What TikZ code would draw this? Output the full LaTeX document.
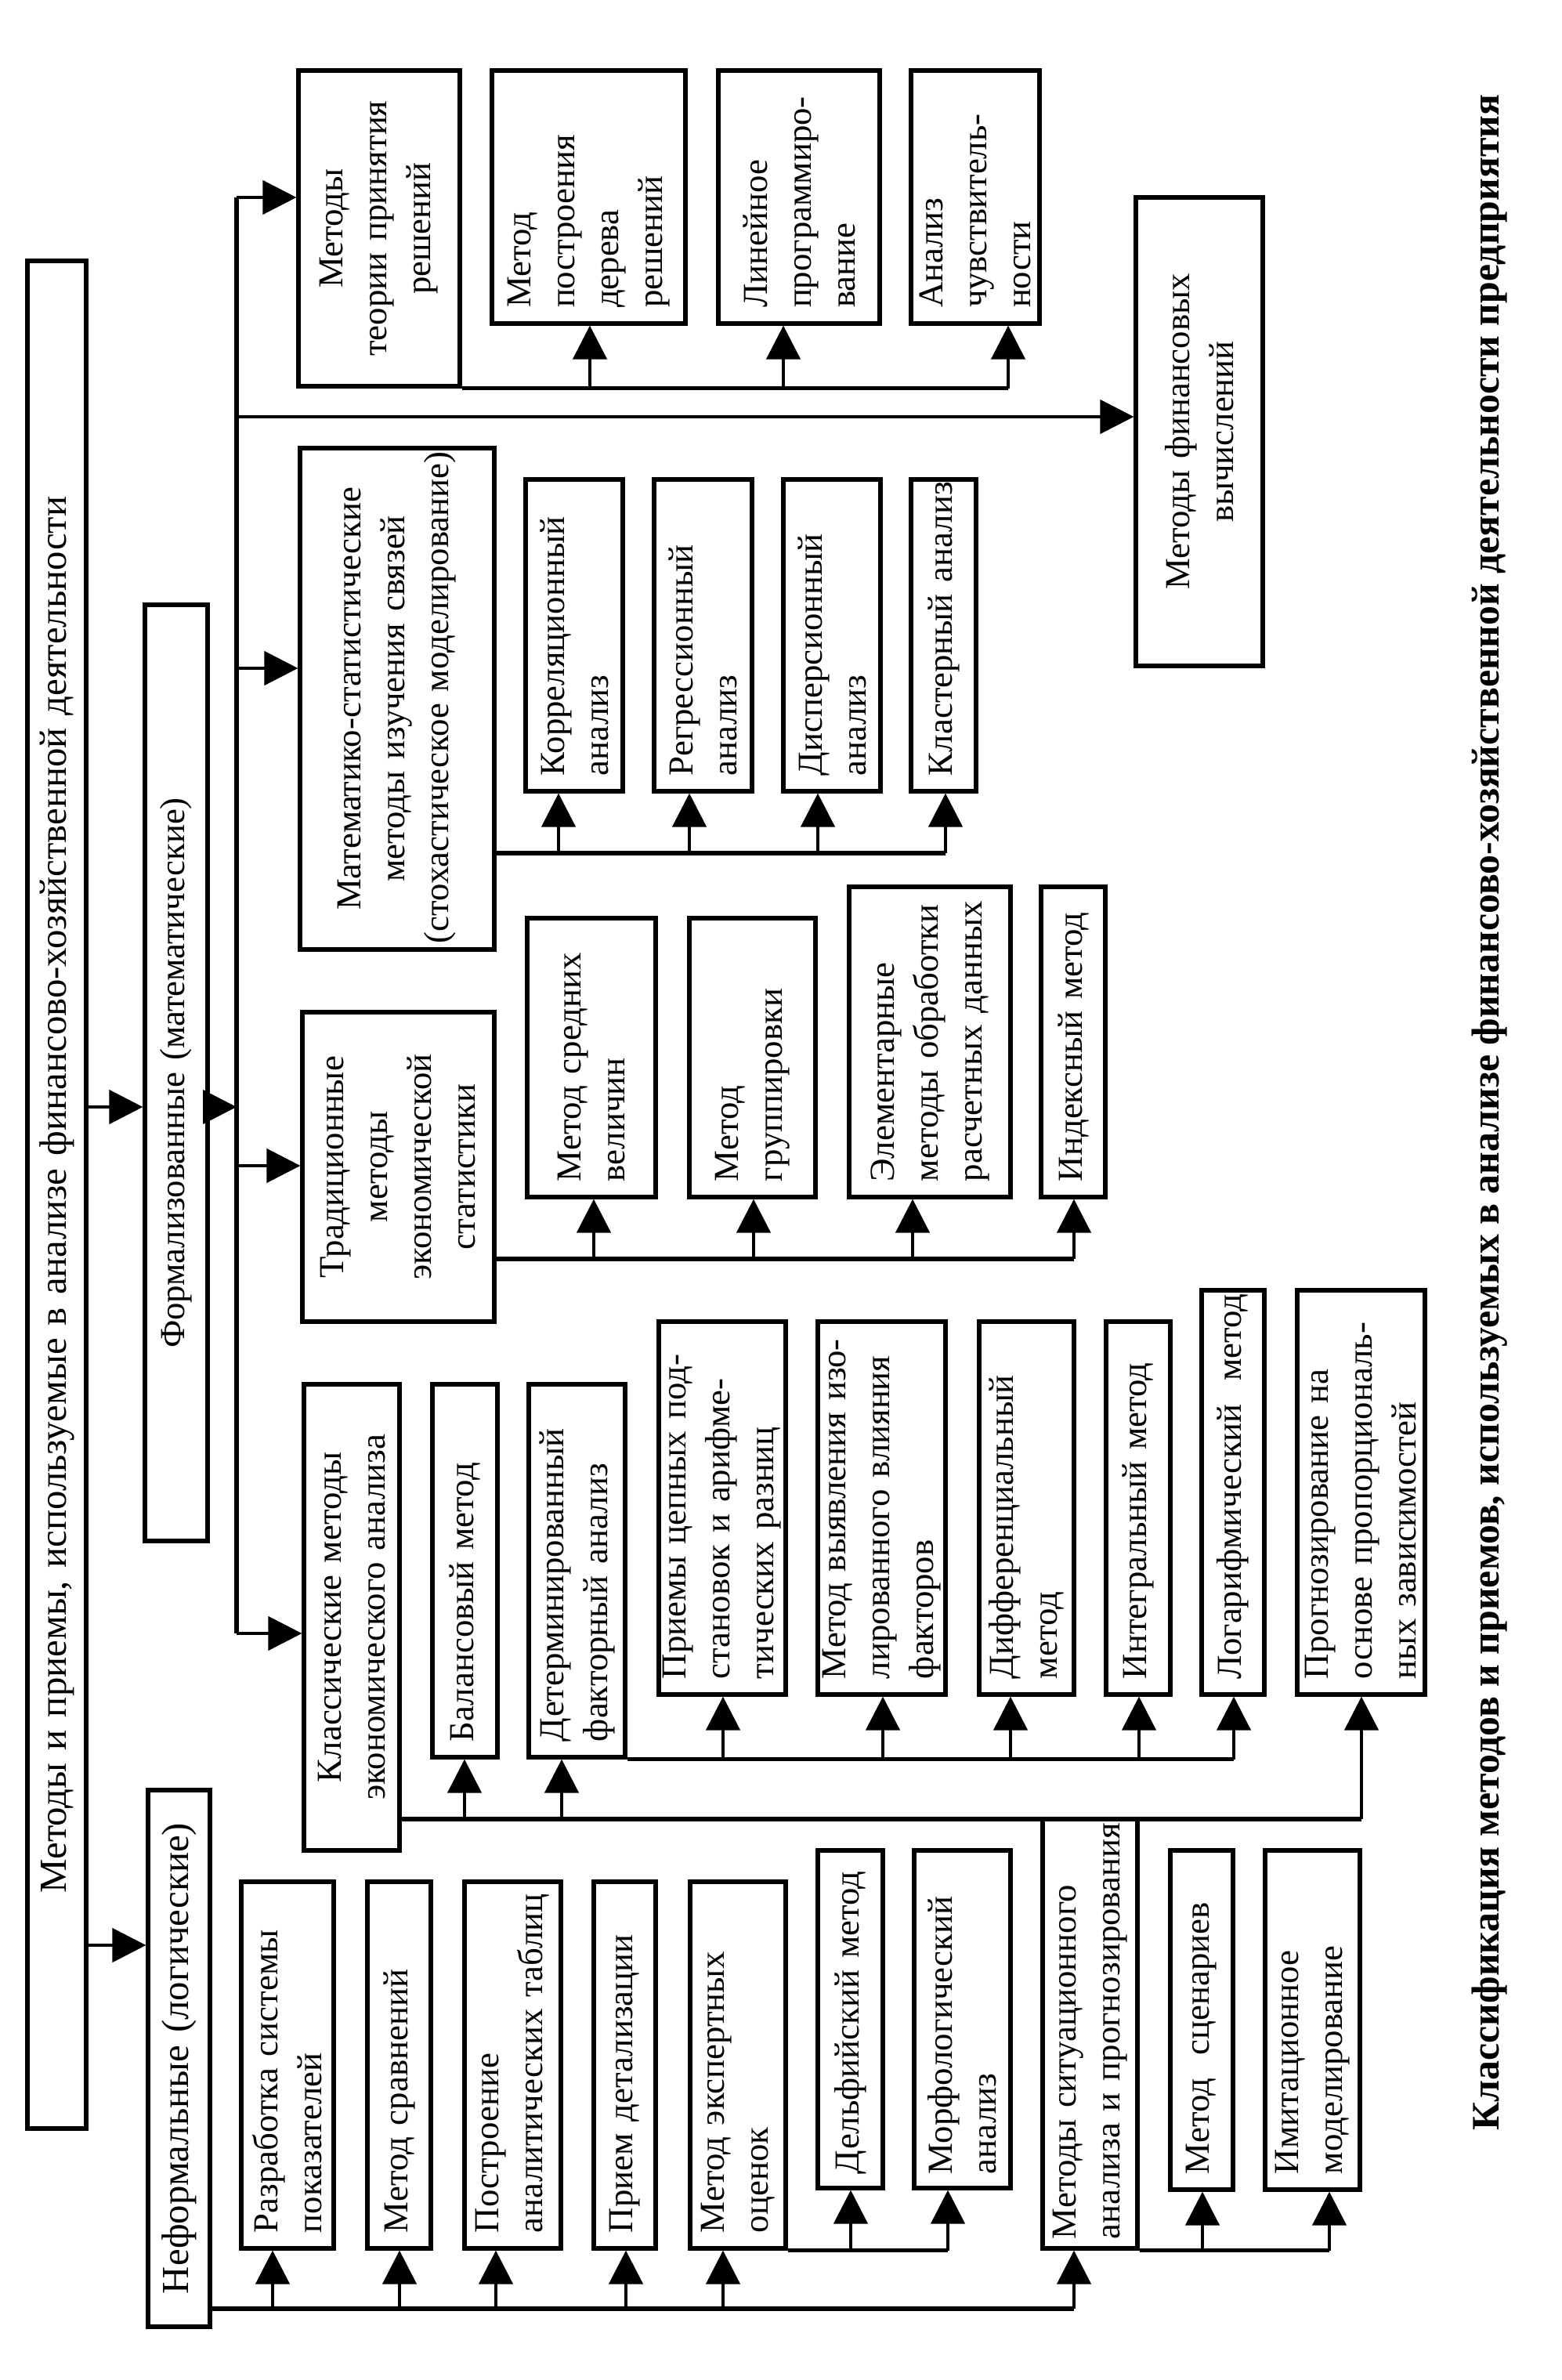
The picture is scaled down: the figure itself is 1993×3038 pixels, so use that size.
\documentclass[tikz,border=0pt]{standalone}
\usepackage{fontspec}
\setmainfont{Liberation Serif}
\usetikzlibrary{arrows.meta}
\hyphenpenalty=10000
\exhyphenpenalty=10000
\tikzset{
  box/.style={draw, line width=1.3pt, rotate=90, inner sep=0pt, font=\fontsize{11.2}{14}\selectfont},
  boxL/.style={box, align=left},
  boxC/.style={box, align=center},
  boxT/.style={box, align=center, font=\fontsize{12.2}{14}\selectfont},
  bus/.style={line width=1.3pt},
  arr/.style={line width=1.15pt, -{Triangle[length=10.75pt,width=10.75pt]}},
  capt/.style={rotate=90, inner sep=0pt, font=\fontsize{12.45}{15}\selectfont\bfseries}
}
% style, name, x1, y1, x2, y2, pad, text
\newcommand\bx[8]{%
  \pgfmathsetlengthmacro\bxw{(#6-#4)*0.25pt}%
  \pgfmathsetlengthmacro\bxh{(#5-#3)*0.25pt}%
  \pgfmathsetlengthmacro\bxt{(#6-#4-2*#7)*0.25pt}%
  \node[#1, minimum width=\bxw, minimum height=\bxh, text width=\bxt] (#2) at ({(#3+#5)/2},{(#4+#6)/2}) {#8};}
\begin{document}
\begin{tikzpicture}[x=0.25pt,y=-0.25pt]
\useasboundingbox (0,0) rectangle (1993,3038);
% top level
\bx{boxT}{title}{35}{333}{110}{2717}{10}{Методы и приемы, используемые в анализе финансово-хозяйственной деятельности}
\bx{boxC}{form}{185}{772}{265}{1967}{10}{Формализованные (математические)}
\bx{boxT}{nef}{189}{2285}{268}{2970}{5}{Неформальные (логические)}
% decision theory
\bx{boxC}{mtpr}{381}{90}{587}{493}{10}{Методы\\теории~принятия\\решений}
\bx{boxL}{mpdr}{628}{90}{875}{413}{20}{Метод\\построения\\дерева\\решений}
\bx{boxL}{lp}{917}{90}{1123}{413}{20}{Линейное\\программиро-\\вание}
\bx{boxL}{ach}{1163}{90}{1327}{413}{20}{Анализ\\чувствитель-\\ности}
\bx{boxC}{fin}{1450}{252}{1612}{850}{10}{Методы~финансовых\\вычислений}
% math-stat
\bx{boxC}{ms}{383}{572}{631}{1212}{8}{Математико-статистические\\методы~изучения~связей\\(стохастическое~моделирование)}
\bx{boxL}{kor}{671}{612}{795}{1010}{20}{Корреляционный\\анализ}
\bx{boxL}{reg}{835}{612}{960}{1010}{20}{Регрессионный\\анализ}
\bx{boxL}{dis}{1000}{612}{1124}{1010}{20}{Дисперсионный\\анализ}
\bx{boxL}{kla}{1163}{612}{1246}{1010}{20}{Кластерный~анализ}
% traditional
\bx{boxC}{trad}{386}{1292}{631}{1687}{10}{Традиционные\\методы\\экономической\\статистики}
\bx{boxL}{msv}{673}{1172}{837}{1528}{20}{Метод~средних\\величин}
\bx{boxL}{mgr}{880}{1172}{1041}{1528}{20}{Метод\\группировки}
\bx{boxL}{elem}{1084}{1132}{1290}{1528}{20}{Элементарные\\методы~обработки\\расчетных~данных}
\bx{boxL}{ind}{1329}{1132}{1411}{1528}{20}{Индексный~метод}
% classical
\bx{boxC}{kl}{388}{1767}{510}{2362}{10}{Классические~методы\\экономического~анализа}
\bx{boxL}{bal}{552}{1767}{635}{2243}{20}{Балансовый~метод}
\bx{boxL}{det}{675}{1767}{798}{2243}{20}{Детерминированный\\факторный~анализ}
\bx{boxL}{cep}{841}{1687}{1003}{2163}{20}{Приемы~цепных~под-\\становок~и~арифме-\\тических~разниц}
\bx{boxL}{izo}{1044}{1687}{1207}{2163}{20}{Метод~выявления~изо-\\лированного~влияния\\факторов}
\bx{boxL}{dif}{1250}{1687}{1371}{2163}{20}{Дифференциальный\\метод}
\bx{boxL}{int}{1412}{1687}{1494}{2163}{20}{Интегральный~метод}
\bx{boxL}{log}{1534}{1647}{1614}{2163}{20}{Логарифмический~~метод}
\bx{boxL}{prog}{1656}{1647}{1819}{2163}{20}{Прогнозирование~на\\основе~пропорциональ-\\ных~зависимостей}
% informal
\bx{boxL}{raz}{308}{2402}{426}{2870}{20}{Разработка~системы\\показателей}
\bx{boxL}{srav}{469}{2402}{550}{2870}{20}{Метод~сравнений}
\bx{boxL}{tab}{593}{2402}{716}{2870}{20}{Построение\\аналитических~таблиц}
\bx{boxL}{detal}{758}{2402}{837}{2870}{20}{Прием~детализации}
\bx{boxL}{eks}{881}{2402}{1003}{2870}{20}{Метод~экспертных\\оценок}
\bx{boxL}{del}{1044}{2362}{1127}{2793}{18}{Дельфийский~метод}
\bx{boxL}{mor}{1167}{2362}{1290}{2793}{18}{Морфологический\\анализ}
\bx{boxL}{sit}{1331}{2322}{1452}{2870}{12}{Методы~ситуационного\\анализа~и~прогнозирования}
\bx{boxL}{scen}{1494}{2362}{1574}{2795}{20}{Метод~~сценариев}
\bx{boxL}{imit}{1615}{2362}{1736}{2795}{20}{Имитационное\\моделирование}
% caption
\node[capt] (cap) at (1902,1420) {Классификация методов и приемов, используемых в анализе финансово-хозяйственной деятельности предприятия};
% ---- connectors ----
\coordinate (tTop) at (302,252);
\coordinate (tFin) at (302,532);
\coordinate (tMs) at (302,853);
\coordinate (tForm) at (302,1413);
\coordinate (tTrad) at (302,1488);
\coordinate (tBot) at (302,2085);
\draw[bus] (tTop) -- (tBot);
\draw[arr] (tTop) -- (tTop -| mtpr.north);
\draw[arr] (tFin) -- (tFin -| fin.north);
\draw[arr] (tMs) -- (tMs -| ms.north);
\draw[arr] (tTrad) -- (tTrad -| trad.north);
\draw[arr] (tBot) -- (tBot -| kl.north);
\draw[arr] (form.south |- tForm) -- (tForm);
\draw[arr] (title.south |- tForm) -- (form.north |- tForm);
\coordinate (tNef) at (110,2483);
\draw[arr] (tNef) -- (tNef -| nef.north);
% decision theory bus
\draw[bus] (mtpr.south west) -- (1287,0 |- mtpr.south west);
\draw[arr] (753,0 |- mtpr.south west) -- (753,0 |- mpdr.west);
\draw[arr] (1000,0 |- mtpr.south west) -- (1000,0 |- lp.west);
\draw[arr] (1287,0 |- mtpr.south west) -- (1287,0 |- ach.west);
% math-stat bus
\coordinate (bMs) at (631,1089);
\draw[bus] (bMs) -- (1207,0 |- bMs);
\draw[arr] (713,0 |- bMs) -- (713,0 |- kor.west);
\draw[arr] (880,0 |- bMs) -- (880,0 |- reg.west);
\draw[arr] (1044,0 |- bMs) -- (1044,0 |- dis.west);
\draw[arr] (1207,0 |- bMs) -- (1207,0 |- kla.west);
% traditional bus
\coordinate (bTr) at (631,1607);
\draw[bus] (bTr) -- (1371,0 |- bTr);
\draw[arr] (758,0 |- bTr) -- (758,0 |- msv.west);
\draw[arr] (962,0 |- bTr) -- (962,0 |- mgr.west);
\draw[arr] (1165,0 |- bTr) -- (1165,0 |- elem.west);
\draw[arr] (1371,0 |- bTr) -- (1371,0 |- ind.west);
% classical bus
\coordinate (bKl) at (510,2322);
\draw[bus] (bKl) -- (1738,0 |- bKl);
\draw[arr] (1738,0 |- bKl) -- (1738,0 |- prog.west);
\draw[arr] (593,0 |- bKl) -- (593,0 |- bal.west);
\draw[arr] (717,0 |- bKl) -- (717,0 |- det.west);
\draw[bus] (det.south west) -- (1575,0 |- det.south west);
\draw[arr] (923,0 |- det.south west) -- (923,0 |- cep.west);
\draw[arr] (1127,0 |- det.south west) -- (1127,0 |- izo.west);
\draw[arr] (1290,0 |- det.south west) -- (1290,0 |- dif.west);
\draw[arr] (1454,0 |- det.south west) -- (1454,0 |- int.west);
\draw[arr] (1575,0 |- det.south west) -- (1575,0 |- log.west);
% informal bus
\coordinate (bNef) at (268,2947);
\draw[bus] (bNef) -- (1371,0 |- bNef);
\draw[arr] (1371,0 |- bNef) -- (1371,0 |- sit.west);
\draw[arr] (348,0 |- bNef) -- (348,0 |- raz.west);
\draw[arr] (510,0 |- bNef) -- (510,0 |- srav.west);
\draw[arr] (633,0 |- bNef) -- (633,0 |- tab.west);
\draw[arr] (799,0 |- bNef) -- (799,0 |- detal.west);
\draw[arr] (923,0 |- bNef) -- (923,0 |- eks.west);
\draw[bus] (eks.south west) -- (1210,0 |- eks.south west);
\draw[arr] (1086,0 |- eks.south west) -- (1086,0 |- del.west);
\draw[arr] (1210,0 |- eks.south west) -- (1210,0 |- mor.west);
\draw[bus] (sit.south west) -- (1697,0 |- sit.south west);
\draw[arr] (1535,0 |- sit.south west) -- (1535,0 |- scen.west);
\draw[arr] (1697,0 |- sit.south west) -- (1697,0 |- imit.west);
\end{tikzpicture}
\end{document}
